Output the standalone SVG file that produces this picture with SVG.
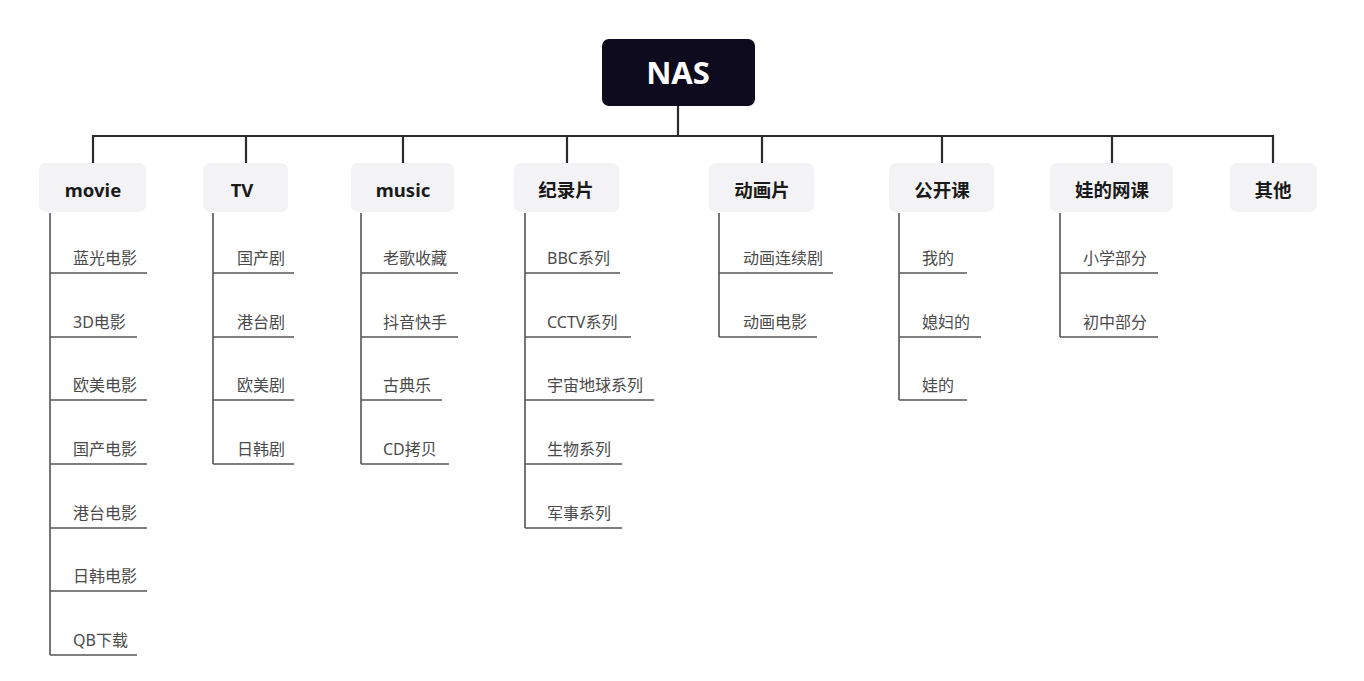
<svg xmlns="http://www.w3.org/2000/svg" width="1364" height="681" viewBox="0 0 1364 681">
<style>
.bg{fill:#ffffff}
.root rect{fill:#0e0b1f}
.root text{fill:#ffffff;font-family:"Noto Sans","Noto Sans CJK SC",sans-serif;font-weight:700;font-size:31px;text-anchor:middle;dominant-baseline:central}
.cat rect{fill:#f3f3f5}
.cat text{fill:#1a1a1a;font-family:"Noto Sans","Noto Sans CJK SC",sans-serif;font-weight:700;font-size:18.5px;text-anchor:middle;dominant-baseline:central}
.leaf text{fill:#4a4a4a;font-family:"Noto Sans","Noto Sans CJK SC",sans-serif;font-size:16px;dominant-baseline:central}
.trunk{stroke:#2b2b2b;stroke-width:2.2;fill:none}
.branch{stroke:#555555;stroke-width:1.6;fill:none}
</style>
<rect class="bg" x="0" y="0" width="1364" height="681"/>
<g id="connectors">
  <path class="trunk" d="M678 106V136M93 163V136H1273V163M246 136V163M403 136V163M567 136V163M762 136V163M942 136V163M1112 136V163"/>
  <path class="branch" d="M50 213V655M50 273H147M50 337H137M50 400H147M50 464H147M50 528H147M50 591H147M50 655H137"/>
  <path class="branch" d="M213 213V464M213 273H294M213 337H294M213 400H294M213 464H294"/>
  <path class="branch" d="M361 213V464M361 273H458M361 337H458M361 400H442M361 464H449"/>
  <path class="branch" d="M525 213V528M525 273H620M525 337H631M525 400H654M525 464H622M525 528H622"/>
  <path class="branch" d="M719 213V337M719 273H833M719 337H817"/>
  <path class="branch" d="M899 213V400M899 273H967M899 337H981M899 400H967"/>
  <path class="branch" d="M1060 213V337M1060 273H1158M1060 337H1158"/>
</g>
<g id="node-nas" class="root"><rect x="602" y="39" width="153" height="67" rx="7"/><text x="678" y="72">NAS</text></g>
<g id="node-movie" class="cat"><rect x="39" y="163" width="107" height="49" rx="7"/><text x="93" y="189">movie</text></g>
<g id="node-tv" class="cat"><rect x="203" y="163" width="85" height="49" rx="7"/><text x="242" y="189">TV</text></g>
<g id="node-music" class="cat"><rect x="351" y="163" width="103" height="49" rx="7"/><text x="403" y="189">music</text></g>
<g id="node-doc" class="cat"><rect x="514" y="163" width="105" height="49" rx="7"/><text x="566" y="189">纪录片</text></g>
<g id="node-anim" class="cat"><rect x="709" y="163" width="105" height="49" rx="7"/><text x="762" y="189">动画片</text></g>
<g id="node-course" class="cat"><rect x="889" y="163" width="105" height="49" rx="7"/><text x="942" y="189">公开课</text></g>
<g id="node-kid" class="cat"><rect x="1050" y="163" width="123" height="49" rx="7"/><text x="1112" y="189">娃的网课</text></g>
<g id="node-other" class="cat"><rect x="1230" y="163" width="87" height="49" rx="7"/><text x="1273" y="189">其他</text></g>
<g id="leaves-movie" class="leaf">
  <text x="73" y="258">蓝光电影</text><text x="73" y="322">3D电影</text><text x="73" y="385">欧美电影</text><text x="73" y="449">国产电影</text><text x="73" y="513">港台电影</text><text x="73" y="576">日韩电影</text><text x="73" y="640">QB下载</text>
</g>
<g id="leaves-tv" class="leaf">
  <text x="237" y="258">国产剧</text><text x="237" y="322">港台剧</text><text x="237" y="385">欧美剧</text><text x="237" y="449">日韩剧</text>
</g>
<g id="leaves-music" class="leaf">
  <text x="383" y="258">老歌收藏</text><text x="383" y="322">抖音快手</text><text x="383" y="385">古典乐</text><text x="383" y="449">CD拷贝</text>
</g>
<g id="leaves-doc" class="leaf">
  <text x="547" y="258">BBC系列</text><text x="547" y="322">CCTV系列</text><text x="547" y="385">宇宙地球系列</text><text x="547" y="449">生物系列</text><text x="547" y="513">军事系列</text>
</g>
<g id="leaves-anim" class="leaf">
  <text x="743" y="258">动画连续剧</text><text x="743" y="322">动画电影</text>
</g>
<g id="leaves-course" class="leaf">
  <text x="922" y="258">我的</text><text x="922" y="322">媳妇的</text><text x="922" y="385">娃的</text>
</g>
<g id="leaves-kid" class="leaf">
  <text x="1083" y="258">小学部分</text><text x="1083" y="322">初中部分</text>
</g>
</svg>
